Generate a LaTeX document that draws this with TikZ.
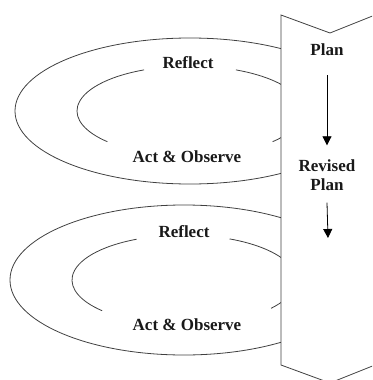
\documentclass[tikz,border=0pt]{standalone}
\usepackage{fontspec}
\setmainfont{Liberation Serif}
\usetikzlibrary{arrows.meta}
\begin{document}
\begin{tikzpicture}[x=1pt,y=-1pt,
  ln/.style={draw=black!75,line width=0.8pt},
  lbl/.style={font=\fontsize{17}{19}\selectfont\bfseries,text=black!90,inner sep=0pt,align=center},
  arr/.style={ln,draw=black,-{Triangle[length=9pt,width=9pt]}}]
\useasboundingbox (0,0) rectangle (372,380);
\clip (0,0) rectangle (372,380);
% cycle 1
\coordinate (c1) at (190,111);
\draw[ln] (c1) ellipse [x radius=175, y radius=73];
\draw[ln] (c1) ++(-114:113 and 45) arc[start angle=-114, end angle=-223, x radius=113, y radius=45];
\draw[ln] (c1) ++(-317:113 and 45) arc[start angle=-317, end angle=-426, x radius=113, y radius=45];
% cycle 2
\coordinate (c2) at (184,280);
\draw[ln] (c2) ellipse [x radius=174, y radius=75];
\draw[ln] (c2) ++(-115:112 and 45) arc[start angle=-115, end angle=-223, x radius=112, y radius=45];
\draw[ln] (c2) ++(-321:112 and 45) arc[start angle=-321, end angle=-426, x radius=112, y radius=45];
% chevron
\draw[ln,fill=white] (281,15) -- (330,33) -- (380,13) -- (380,363) -- (330,383) -- (281,365) -- cycle;
% labels
\node[lbl] (r1) at (188,63) {Reflect};
\node[lbl] (a1) at (187,157) {Act \& Observe};
\node[lbl] (r2) at (184,232) {Reflect};
\node[lbl] (a2) at (187,325) {Act \& Observe};
\node[lbl] (plan) at (327,50) {Plan};
\node[lbl] (rev) at (327,175) {Revised\\Plan};
\coordinate (e2) at (328,238);
\draw[arr] ([yshift=-25]plan.center) -- ([yshift=14]rev.north);
\draw[arr] ([yshift=-12]rev.south) -- (e2);
\end{tikzpicture}
\end{document}
